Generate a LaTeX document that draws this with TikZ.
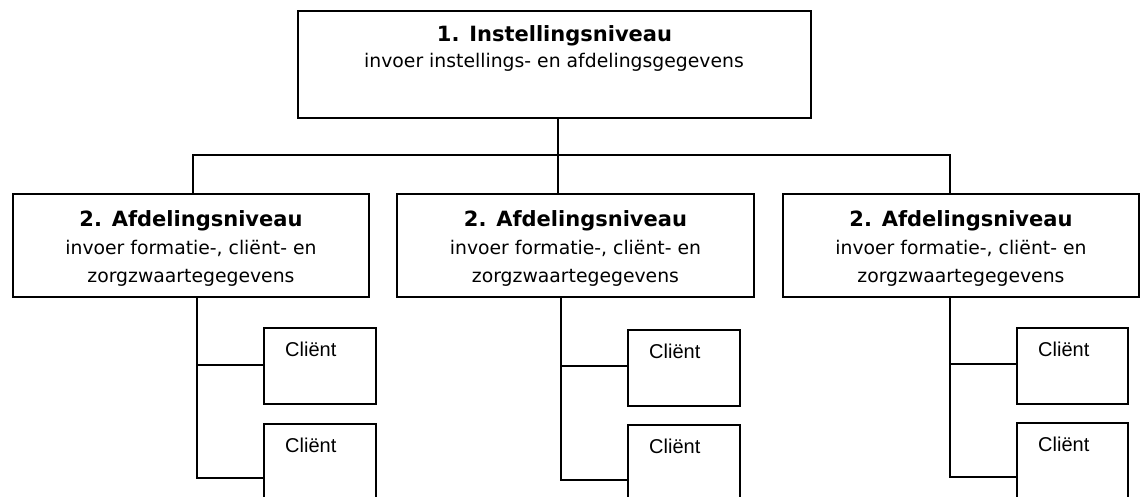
\documentclass[tikz,border=0pt]{standalone}
\usepackage{fontspec}
\setmainfont{DejaVu Sans}
\newfontfamily\arialf{Liberation Sans}
\begin{document}
\begin{tikzpicture}[x=1pt,y=-1pt,
  box/.style={draw, line width=1.9pt, inner sep=0pt, anchor=north west},
  conn/.style={line width=1.9pt},
  ttl/.style={anchor=base, inner sep=0pt, font=\fontsize{21}{25}\selectfont\bfseries},
  sub/.style={anchor=base, inner sep=0pt, font=\fontsize{18.8}{22}\selectfont},
  cli/.style={anchor=base west, inner sep=0pt, font=\fontsize{20}{24}\selectfont\arialf}]
\useasboundingbox (0,0) rectangle (1140,497);
\fill[white] (0,0) rectangle (1140,497);

% top box
\node[box, minimum width=513pt, minimum height=107pt] (top) at (297,10) {};
\node[ttl] (toptitle) at (554.5,42) {1. Instellingsniveau};
\node[sub] (topsub) at (554,68) {invoer instellings- en afdelingsgegevens};

% afdeling boxes
\node[box, minimum width=356pt, minimum height=103pt] (a1) at (12,193) {};
\node[box, minimum width=357pt, minimum height=103pt] (a2) at (396,193) {};
\node[box, minimum width=356pt, minimum height=103pt] (a3) at (782,193) {};
\foreach \n in {a1,a2,a3}{
  \node[ttl] (\n t1) at (\n.north |- 0,226) {2. Afdelingsniveau};
  \node[sub] (\n t2) at (\n.north |- 0,254) {invoer formatie-, cliënt- en};
  \node[sub] (\n t3) at (\n.north |- 0,282) {zorgzwaartegegevens};
}

% client boxes
\node[box, minimum width=112pt, minimum height=76pt] (c11) at (263,327) {};
\node[box, minimum width=112pt, minimum height=100pt] (c12) at (263,423) {};
\node[box, minimum width=112pt, minimum height=76pt] (c21) at (627,329) {};
\node[box, minimum width=112pt, minimum height=100pt] (c22) at (627,424) {};
\node[box, minimum width=111pt, minimum height=76pt] (c31) at (1016,327) {};
\node[box, minimum width=111pt, minimum height=100pt] (c32) at (1016,422) {};
\foreach \n in {c11,c12,c21,c22,c31,c32}{
  \node[cli] (\n t) at ([xshift=22pt,yshift=-29pt]\n.north west) {Cliënt};
}

% top-level tree
\coordinate (d1) at (193,155);
\coordinate (d2) at (558,155);
\coordinate (d3) at (950,155);
\draw[conn] (top.south -| d2) -- (a2.north -| d2);
\draw[conn] (d1 |- a1.north) -- (d1) -- (d3) -- (d3 |- a3.north);

% column 1
\coordinate (v1a) at (197,365);
\coordinate (v1b) at (197,478);
\draw[conn] (a1.south -| v1a) -- (v1b) -- (v1b -| c12.west);
\draw[conn] (v1a) -- (v1a -| c11.west);
% column 2
\coordinate (v2a) at (561,366);
\coordinate (v2b) at (561,480);
\draw[conn] (a2.south -| v2a) -- (v2b) -- (v2b -| c22.west);
\draw[conn] (v2a) -- (v2a -| c21.west);
% column 3
\coordinate (v3a) at (950,364);
\coordinate (v3b) at (950,477);
\draw[conn] (a3.south -| v3a) -- (v3b) -- (v3b -| c32.west);
\draw[conn] (v3a) -- (v3a -| c31.west);
\end{tikzpicture}
\end{document}
